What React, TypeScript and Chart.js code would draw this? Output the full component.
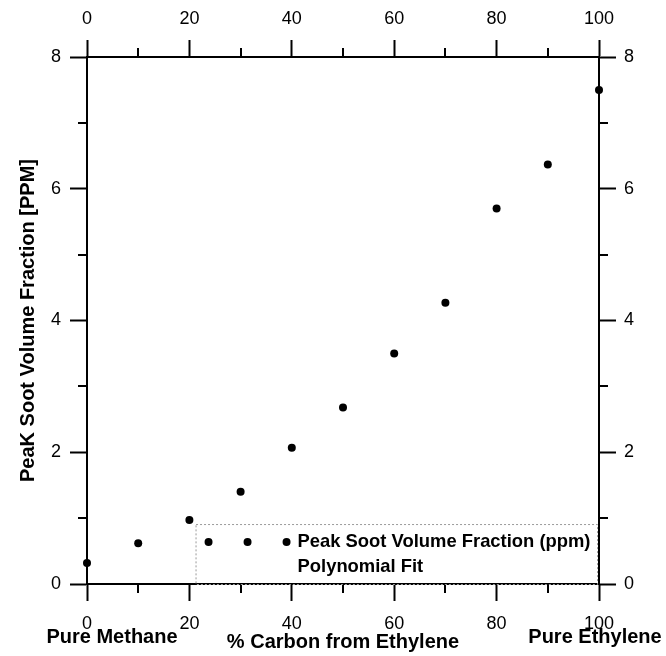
import React, { useEffect, useRef } from "react";
import { Chart, registerables } from "chart.js";

Chart.register(...registerables);

const carbonPct = [0, 10, 20, 30, 40, 50, 60, 70, 80, 90, 100];
const sootPpm = [0.32, 0.62, 0.97, 1.4, 2.07, 2.68, 3.5, 4.27, 5.7, 6.37, 7.5];
const fitX: number[] = [];
const fitY: number[] = [];
const xMinorTicks = [10, 30, 50, 70, 90];
const yMinorTicks = [1, 3, 5, 7];
const seriesLabels = ["Peak Soot Volume Fraction (ppm)", "Polynomial Fit"];
const yTitle = "PeaK Soot Volume Fraction [PPM]";
const xTitle = "% Carbon from Ethylene";
const leftEndLabel = "Pure Methane";
const rightEndLabel = "Pure Ethylene";

const FONT = "'Liberation Sans', Arial, sans-serif";

const decorPlugin = {
  id: "decor",
  afterDraw(chart: any) {
    const ctx = chart.ctx as CanvasRenderingContext2D;
    const { x, y } = chart.scales;
    const area = chart.chartArea;
    ctx.save();
    // minor ticks
    ctx.strokeStyle = "#000";
    ctx.lineWidth = 2;
    const mlen = 9;
    xMinorTicks.forEach((v) => {
      const px = Math.round(x.getPixelForValue(v));
      ctx.beginPath();
      ctx.moveTo(px, area.bottom);
      ctx.lineTo(px, area.bottom + mlen);
      ctx.moveTo(px, area.top);
      ctx.lineTo(px, area.top - mlen);
      ctx.stroke();
    });
    yMinorTicks.forEach((v) => {
      const py = Math.round(y.getPixelForValue(v));
      ctx.beginPath();
      ctx.moveTo(area.left, py);
      ctx.lineTo(area.left - mlen, py);
      ctx.moveTo(area.right, py);
      ctx.lineTo(area.right + mlen, py);
      ctx.stroke();
    });

    // legend box
    const lx0 = x.getPixelForValue(21.2);
    const lx1 = area.right - 2;
    const ly0 = y.getPixelForValue(0.91);
    const ly1 = area.bottom;
    ctx.strokeStyle = "#9a9a9a";
    ctx.lineWidth = 1;
    ctx.setLineDash([2, 2]);
    ctx.strokeRect(lx0 + 0.5, ly0 + 0.5, lx1 - lx0, ly1 - ly0);
    ctx.setLineDash([]);
    // legend symbols (three dots)
    const row1 = ly0 + 18;
    const row2 = ly0 + 43;
    ctx.fillStyle = "#000";
    [lx0 + 13, lx0 + 52, lx0 + 91].forEach((dx) => {
      ctx.beginPath();
      ctx.arc(dx, row1, 4, 0, Math.PI * 2);
      ctx.fill();
    });
    ctx.font = `bold 18.4px ${FONT}`;
    ctx.textAlign = "left";
    ctx.textBaseline = "middle";
    const ds = chart.data.datasets;
    ctx.fillText(ds[0].label, lx0 + 102, row1);
    ctx.fillText(ds[1].label, lx0 + 102, row2);

    // end labels below the axis
    ctx.font = `bold 20px ${FONT}`;
    ctx.textAlign = "center";
    ctx.fillText(leftEndLabel, x.getPixelForValue(0) + 25, 637);
    ctx.fillText(rightEndLabel, x.getPixelForValue(100) - 4, 637);
    ctx.restore();
  },
};

function axis(position: string, min: number, max: number, step: number, size: number, padding: number, title?: any) {
  return {
    type: "linear",
    position,
    min,
    max,
    afterFit: (s: any) => {
      if (position === "left" || position === "right") s.width = size;
      else s.height = size;
    },
    ticks: {
      stepSize: step,
      color: "#000",
      font: { family: FONT, size: 18 },
      padding,
      maxRotation: 0,
    },
    grid: {
      drawOnChartArea: false,
      drawTicks: true,
      tickLength: 17,
      tickWidth: 2,
      tickColor: "#000",
      color: "#000",
    },
    border: { display: true, color: "#000", width: 2 },
    title: title || { display: false },
  };
}

export default function App() {
  const ref = useRef<HTMLCanvasElement | null>(null);
  useEffect(() => {
    if (!ref.current) return;
    const chart = new Chart(ref.current, {
      type: "scatter",
      data: {
        datasets: [
          {
            label: seriesLabels[0],
            data: carbonPct.map((c, i) => ({ x: c, y: sootPpm[i] })),
            backgroundColor: "#000",
            borderColor: "#000",
            pointRadius: 4,
            pointBorderWidth: 0,
            clip: false,
            xAxisID: "x",
            yAxisID: "y",
          },
          {
            label: seriesLabels[1],
            data: fitX.map((c, i) => ({ x: c, y: fitY[i] })),
            showLine: true,
            borderColor: "#000",
            pointRadius: 0,
            xAxisID: "x",
            yAxisID: "y",
          },
        ],
      },
      options: {
        animation: false,
        responsive: false,
        layout: { padding: 0 },
        plugins: { legend: { display: false }, tooltip: { enabled: false } },
        scales: {
          x: axis("bottom", 0, 100, 20, 72, 12, {
            display: true,
            text: xTitle,
            color: "#000",
            font: { family: FONT, size: 20, weight: "bold" },
            padding: { top: 0, bottom: 2 },
          }),
          x2: axis("top", 0, 100, 20, 57, 10),
          y: axis("left", 0, 8, 2, 87, 9, {
            display: true,
            text: yTitle,
            color: "#000",
            font: { family: FONT, size: 20, weight: "bold" },
            padding: { top: 16, bottom: 0 },
          }),
          y2: axis("right", 0, 8, 2, 67, 8),
        } as any,
      },
      plugins: [decorPlugin],
    } as any);
    return () => chart.destroy();
  }, []);
  return (
    <div style={{ position: "absolute", left: 0, top: 0, width: 666, height: 656 }}>
      <canvas ref={ref} width={666} height={656} style={{ display: "block" }} />
    </div>
  );
}
